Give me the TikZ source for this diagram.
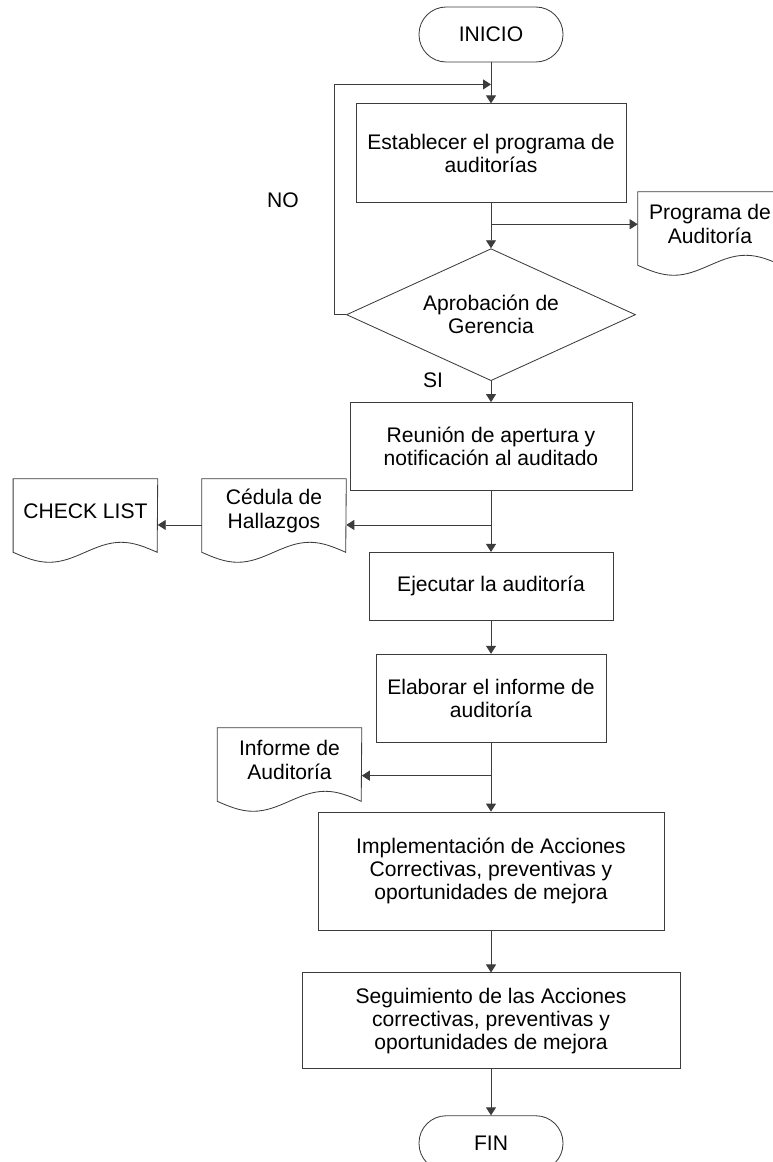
\documentclass[tikz,border=0pt]{standalone}
\usepackage{fontspec}
\setmainfont{Liberation Sans}
\usetikzlibrary{shapes.geometric, arrows.meta, positioning, calc}
\definecolor{LineGray}{RGB}{60,60,60}

\begin{document}
\begin{tikzpicture}[
  font=\fontsize{15}{16.5}\selectfont,
  term/.style={draw=LineGray, line width=0.6pt, rounded corners=0.68cm,
               minimum width=3.6cm, minimum height=1.375cm, align=center},
  proc/.style={draw=LineGray, line width=0.6pt, minimum height=2.2cm,
               align=center, inner sep=2pt},
  dec/.style={draw=LineGray, line width=0.6pt, diamond, aspect=2.19,
              minimum width=7.225cm, minimum height=3.3cm, align=center,
              inner sep=0pt},
  doc/.style={minimum width=3.6cm, minimum height=1.6cm, align=center,
              inner sep=2pt},
  arr/.style={-{Triangle[length=0.2cm, width=0.25cm]}, LineGray, line width=0.6pt},
  line/.style={LineGray, line width=0.6pt},
]
\useasboundingbox (0,0) rectangle (19.3,-29.05);

% flujo principal
\node[term] (inicio) at (12.275,-0.8625) {INICIO};
\node[proc, minimum width=6.75cm, minimum height=2.475cm, below=1.025cm of inicio] (prog)
  {Establecer el programa de\\auditorías};
\node[dec, below=1.125cm of prog] (apr) {Aprobación de\\Gerencia};
\node[proc, minimum width=7.05cm, below=0.525cm of apr] (reu)
  {Reunión de apertura y\\notificación al auditado};
\node[proc, minimum width=6.1cm, minimum height=1.7cm, below=1.525cm of reu] (eje)
  {Ejecutar la auditoría};
\node[proc, minimum width=5.75cm, below=0.825cm of eje] (ela)
  {Elaborar el informe de\\auditoría};
\node[proc, minimum width=8.65cm, minimum height=2.95cm, below=1.725cm of ela] (imp)
  {Implementación de Acciones\\Correctivas, preventivas y\\oportunidades de mejora};
\node[proc, minimum width=9.45cm, minimum height=2.4cm, below=1.05cm of imp] (seg)
  {Seguimiento de las Acciones\\correctivas, preventivas y\\oportunidades de mejora};
\node[term, below=1.15cm of seg] (fin) {FIN};

% documentos
\node[doc] (pdoc) at (17.75,-5.6) {Programa de\\Auditoría};
\node[doc] (ced) at (6.85,-12.775) {Cédula de\\Hallazgos};
\node[doc, left=1.1cm of ced] (check) {CHECK LIST};
\node[doc] (inf) at (7.2375,-19.0) {Informe de\\Auditoría};
\foreach \d in {pdoc,ced,check,inf}
  \draw[line] (\d.north west) -- ([yshift=-0.225cm]\d.south west)
    sin ++(0.9,-0.25) cos ++(0.9,0.25) sin ++(0.9,0.25) cos ++(0.9,-0.25)
    -- (\d.north east) -- cycle;

% etiquetas
\node (no) at (7.075,-5.0) {NO};
\node (si) at (10.825,-9.5) {SI};

% conectores
\coordinate (lp) at ([yshift=0.475cm]prog.north);
\coordinate (b1) at ([yshift=-0.525cm]prog.south);
\coordinate (b2) at ([yshift=-0.85cm]reu.south);
\coordinate (b3) at ([yshift=-0.825cm]ela.south);

\draw[arr] (inicio) -- (prog);
\draw[arr] (prog) -- (apr);
\draw[arr] (b1) -- (b1 -| pdoc.west);
\draw[arr] (apr.west) -- ++(-0.3,0) |- (lp);
\draw[arr] (apr) -- (reu);
\draw[arr] (reu) -- (eje);
\draw[arr] (b2) -- (b2 -| ced.east);
\draw[arr] (ced.west |- b2) -- (check.east |- b2);
\draw[arr] (eje) -- (ela);
\draw[arr] (ela) -- (imp);
\draw[arr] (b3) -- (b3 -| inf.east);
\draw[arr] (imp) -- (seg);
\draw[arr] (seg) -- (fin);
\end{tikzpicture}
\end{document}
